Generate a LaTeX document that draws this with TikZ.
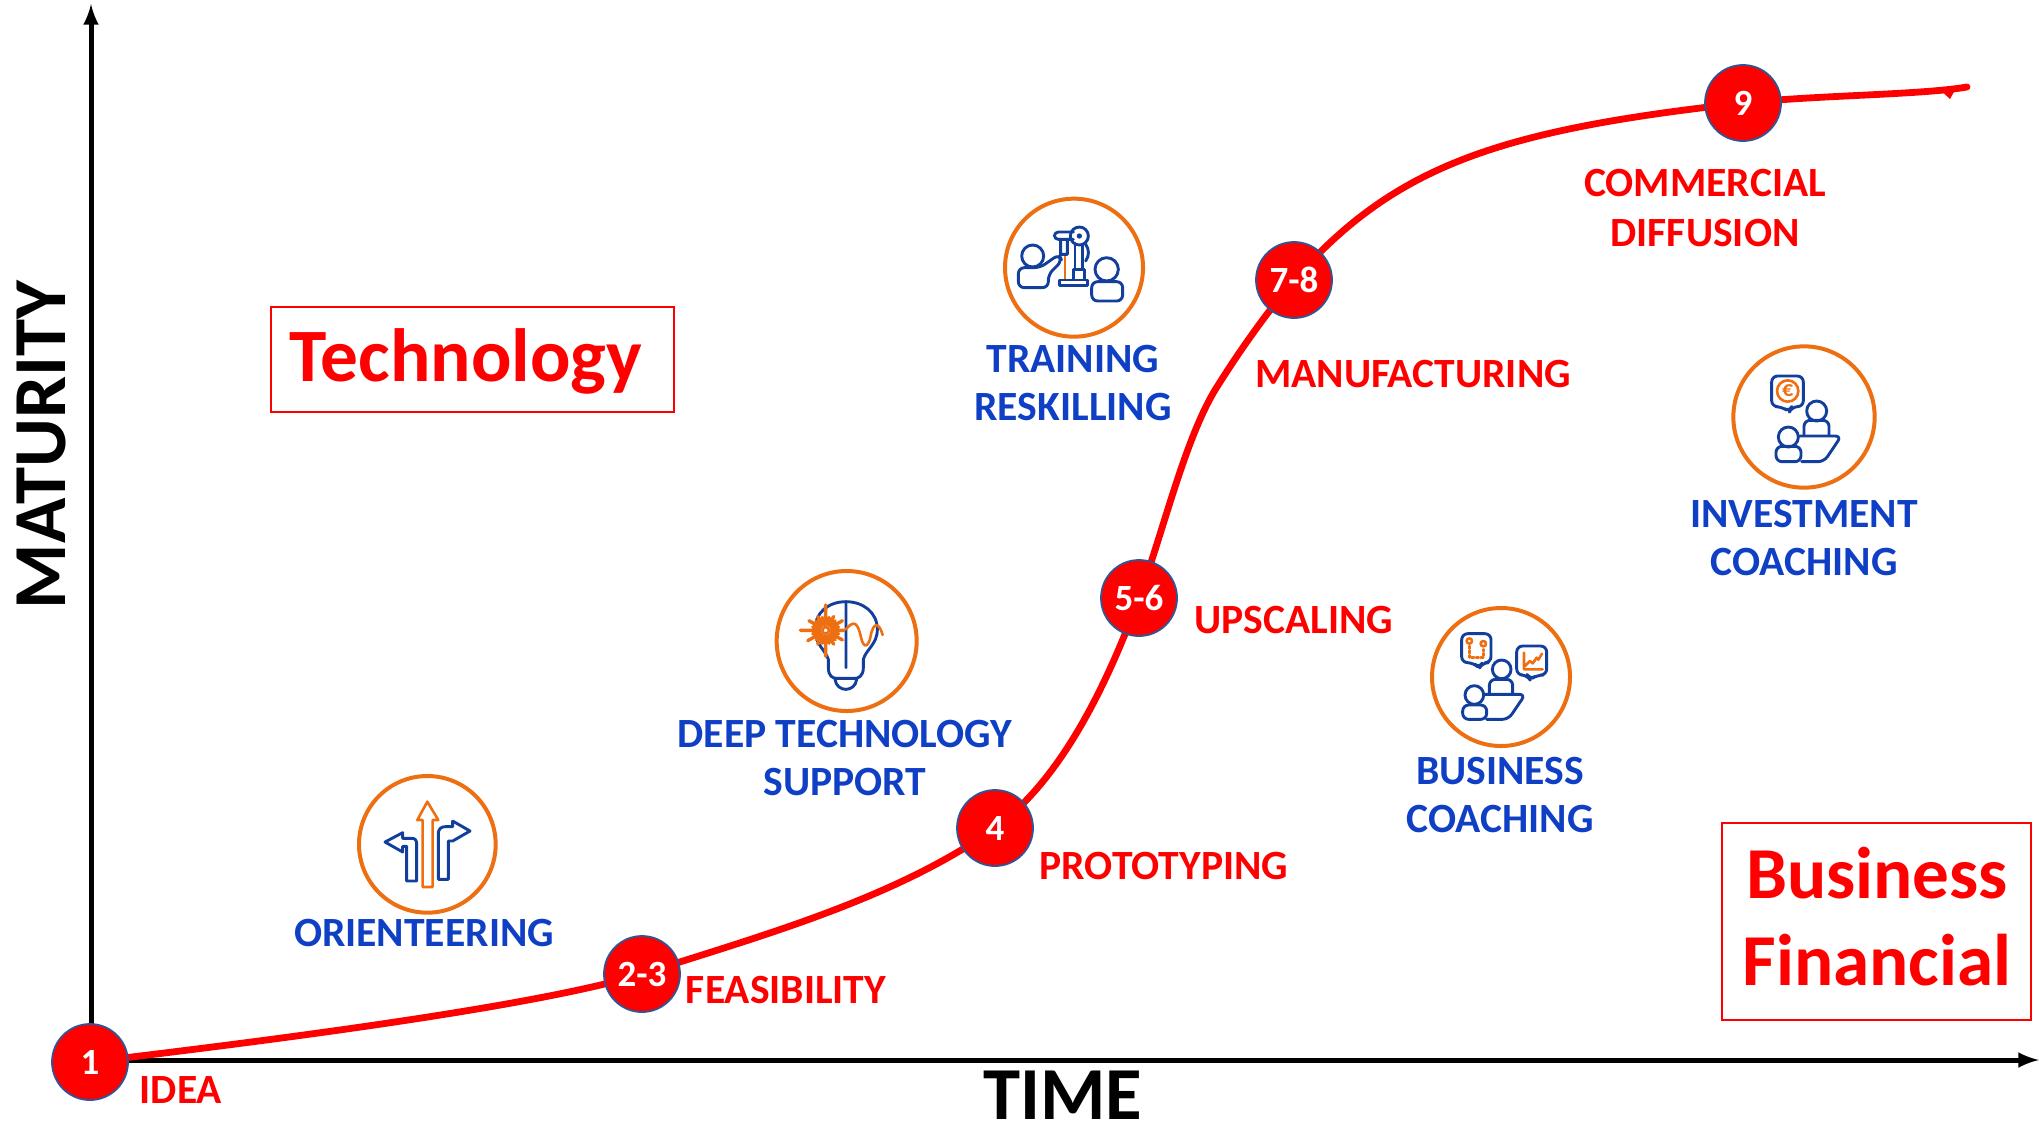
\documentclass[tikz,border=0pt]{standalone}
\usepackage{fontspec}
\setmainfont{Carlito}
\definecolor{myred}{rgb}{1,0,0}
\definecolor{myblue}{HTML}{0F3FC4}
\definecolor{iconblue}{HTML}{123F9C}
\definecolor{iconorange}{HTML}{EE6E12}
\definecolor{badgeline}{HTML}{2F5597}
\tikzset{
	badge/.style={circle,draw=badgeline,line width=0.9pt,fill=myred,text=white,minimum size=38pt,inner sep=0pt,font=\bfseries\fontsize{18.5}{18.5}\selectfont},
	redlabel/.style={text=myred,align=center,inner sep=0pt,font=\bfseries\fontsize{20.8}{25.4}\selectfont},
	bluelabel/.style={text=myblue,align=center,inner sep=0pt,font=\bfseries\fontsize{20.8}{24.2}\selectfont},
	bigbox/.style={draw=myred,line width=0.6pt,inner sep=0pt},
	axislabel/.style={text=black,inner sep=0pt,font=\bfseries\fontsize{37.4}{37.4}\selectfont},
	iconunit/.style={x=0.16667pt,y=-0.16667pt},
	ring/.style={draw=iconorange,line width=2pt},
	blueline/.style={draw=iconblue,line width=1.45pt,line join=round,line cap=round},
	orangeline/.style={draw=iconorange,line width=1.3pt,line join=round,line cap=round}
}
\begin{document}
\begin{tikzpicture}[>=latex, x=0.5pt, y=-0.5pt]
	\useasboundingbox (0,0) rectangle (2039,1121);

	% Axes
	\coordinate (origin) at (91,1060);
	\coordinate (xend) at (2039,1060);
	\coordinate (yend) at (91,4);
	\draw[->, line width=2.5pt] (origin) -- (xend);
	\draw[->, line width=2.5pt] (origin) -- (yend);
	\node[axislabel, rotate=90] (maturity) at (42,445) {MATURITY};
	\node[axislabel] (time) at (1063,1095.5) {TIME};

	% Maturity curve, it runs under the badges
	\coordinate (c1) at (90,1062);
	\coordinate (c23) at (642,974);
	\coordinate (c4) at (995,828);
	\coordinate (c56) at (1139,598);
	\coordinate (bend) at (1215,390);
	\coordinate (c78) at (1294,280);
	\coordinate (c9) at (1743,103);
	\coordinate (cend) at (1967,87);
	\draw[myred, line width=3.4pt, line cap=round] (c1) .. controls (300,1037) and (540,1005) .. (c23) .. controls (760,936) and (895,899) .. (c4) .. controls (1060,780) and (1105,690) .. (c56) .. controls (1165,525) and (1185,440) .. (bend) .. controls (1240,350) and (1265,315) .. (c78) .. controls (1395,165) and (1500,130) .. (c9) .. controls (1820,95) and (1920,95) .. (cend);
	\fill[myred] (1938,88) -- (1950,99) -- (1955,90) -- cycle;

	% Badges on the curve
	\node[badge] (b1) at (c1) {1};
	\node[badge] (b23) at (c23) {2-3};
	\node[badge] (b4) at (c4) {4};
	\node[badge] (b56) at (c56) {5-6};
	\node[badge] (b78) at (c78) {7-8};
	\node[badge] (b9) at (c9) {9};

	% Labels of the stages
	\node[redlabel] (idea) at (181,1090) {IDEA};
	\node[redlabel] (feasibility) at (786,990) {FEASIBILITY};
	\node[redlabel] (prototyping) at (1164,866) {PROTOTYPING};
	\node[redlabel] (upscaling) at (1294,620) {UPSCALING};
	\node[redlabel] (manufacturing) at (1413,374) {MANUFACTURING};
	\node[redlabel] (commercial) at (1705,208) {COMMERCIAL\\DIFFUSION};

	% Labels of the services
	\node[bluelabel] (orienteering) at (424,933) {ORIENTEERING};
	\node[bluelabel] (deeptech) at (845,758) {DEEP TECHNOLOGY\\SUPPORT};
	\node[bluelabel] (training) at (1073,383) {TRAINING\\RESKILLING};
	\node[bluelabel] (business) at (1500,795) {BUSINESS\\COACHING};
	\node[bluelabel] (investment) at (1804,538) {INVESTMENT\\COACHING};

	% The two boxes
	\draw[bigbox] (271,307) rectangle (674,412);
	\node[text=myred, inner sep=0pt, font=\bfseries\fontsize{37.7}{37.7}\selectfont] (technology) at (466,361) {Technology};
	\draw[bigbox] (1722,823) rectangle (2031,1020);
	\node[text=myred, align=center, inner sep=0pt, font=\bfseries\fontsize{36.6}{43.5}\selectfont] (financial) at (1877,917) {Business\\Financial};

	% Icon: orienteering
	\begin{scope}[shift={(340,761)}, iconunit]
		\draw[ring] (262,250) circle (205);
		\draw[orangeline] (248,378) -- (278,378) -- (278,177) -- (295,177) -- (262,122) -- (232,177) -- (248,177) -- cycle;
		\draw[blueline] (200,360) -- (230,360) -- (230,250) .. controls (230,238) and (226,232) .. (216,232) -- (188,232) -- (188,215) -- (135,243) -- (188,273) -- (188,256) -- (200,256) -- cycle;
		\draw[blueline] (295,355) -- (325,355) -- (325,240) -- (338,240) -- (390,210) -- (338,180) -- (338,197) -- (315,197) .. controls (303,197) and (295,205) .. (295,217) -- cycle;
	\end{scope}

	% Icon: lamp with a laser
	\begin{scope}[shift={(760,561)}, iconunit]
		\draw[ring] (260,240) circle (210);
		\draw[blueline] (205,320) -- (205,295) .. controls (195,265) and (165,250) .. (165,205) .. controls (165,155) and (205,122) .. (258,122) .. controls (310,122) and (352,155) .. (352,205) .. controls (352,250) and (318,265) .. (310,295) -- (310,320) .. controls (310,345) and (295,352) .. (285,352) -- (230,352) .. controls (218,352) and (205,345) .. (205,320) -- cycle;
		\draw[blueline] (258,122) -- (258,320) (225,355) .. controls (230,395) and (285,395) .. (290,355);
		\fill[white] (197,208) circle (14);
		\draw[orangeline, line width=1.7pt] (197,208) +(0:18) -- +(0:55) +(30:18) -- +(30:58) +(60:18) -- +(60:48) +(90:18) -- +(90:78) +(120:18) -- +(120:48) +(150:18) -- +(150:62) +(180:18) -- +(180:76) +(210:18) -- +(210:58) +(240:18) -- +(240:48) +(270:18) -- +(270:76) +(300:18) -- +(300:48) +(330:18) -- +(330:58) (197,208) +(15:18) -- +(15:40) +(45:18) -- +(45:40) +(75:18) -- +(75:40) +(105:18) -- +(105:40) +(135:18) -- +(135:40) +(165:18) -- +(165:40) +(195:18) -- +(195:40) +(225:18) -- +(225:40) +(255:18) -- +(255:40) +(285:18) -- +(285:40) +(315:18) -- +(315:40) +(345:18) -- +(345:40);
		\draw[orangeline] (197,208) circle (10);
		\draw[orangeline] (258,205) .. controls (285,170) and (295,195) .. (302,225) .. controls (310,265) and (325,260) .. (332,225) .. controls (340,180) and (358,185) .. (368,222);
	\end{scope}

	% Icon: training at a machine
	\begin{scope}[shift={(990,186)}, iconunit]
		\draw[ring] (252,245) circle (207);
		\draw[orangeline] (225,212) -- (225,282);
		\draw[blueline] (128,210) circle (33) (350,250) circle (35);
		\draw[blueline, rounded corners=3pt] (85,305) -- (85,245) -- (150,245) -- (207,205) -- (216,225) -- (175,265) -- (175,305) -- cycle;
		\draw[blueline, rounded corners=3pt] (305,345) -- (305,287) -- (398,287) -- (398,345) -- cycle;
		\draw[blueline] (208,282) rectangle (293,298) (250,250) rectangle (283,282) (255,175) -- (255,250) (278,178) -- (278,250);
		\draw[blueline, rounded corners=2pt] (250,138) -- (193,138) -- (193,160) -- (250,160);
		\draw[blueline] (268,150) circle (27) (212,160) -- (212,205) -- (232,205) -- (232,160) (287,175) .. controls (298,190) and (298,210) .. (287,225);
		\fill[iconblue] (268,150) circle (8);
	\end{scope}

	% Icon: business coaching
	\begin{scope}[shift={(1420,601)}, iconunit]
		\draw[ring] (243,228) circle (207);
		\draw[blueline] (245,205) circle (28) (163,282) circle (28);
		\draw[blueline, rounded corners=3pt] (208,278) -- (208,235) -- (278,235) -- (278,278);
		\draw[blueline, rounded corners=3pt] (190,280) -- (316,280) -- (265,355) -- (200,355);
		\draw[blueline, rounded corners=3pt] (128,355) -- (128,312) -- (200,312) -- (200,355) -- cycle;
		\draw[blueline, rounded corners=3pt] (160,185) -- (125,185) -- (125,98) -- (213,98) -- (213,185) -- (187,185) -- (178,202) -- cycle;
		\draw[blueline, rounded corners=3pt] (322,222) -- (290,222) -- (290,135) -- (380,135) -- (380,222) -- (352,222) -- (330,236) -- cycle;
		\draw[orangeline] (148,120) circle (8) (190,128) circle (8);
		\draw[orangeline, densely dotted] (148,135) -- (148,170) -- (190,170) -- (190,145);
		\draw[orangeline] (312,155) -- (312,205) -- (368,205) (315,195) -- (330,180) -- (338,187) -- (350,170) -- (355,176) -- (366,158);
	\end{scope}

	% Icon: investment coaching
	\begin{scope}[shift={(1720,341)}, iconunit]
		\draw[ring] (252,228) circle (212);
		\draw[blueline] (290,210) circle (30) (205,288) circle (30);
		\draw[blueline, rounded corners=3pt] (252,282) -- (252,238) -- (327,238) -- (327,282);
		\draw[blueline, rounded corners=3pt] (240,285) -- (364,285) -- (312,362) -- (245,362);
		\draw[blueline, rounded corners=3pt] (168,362) -- (168,316) -- (243,316) -- (243,362) -- cycle;
		\draw[blueline, rounded corners=3pt] (185,197) -- (155,197) -- (155,105) -- (250,105) -- (250,197) -- (215,197) -- (208,213) -- cycle;
		\draw[orangeline] (203,150) circle (32);
		\node[text=iconorange, inner sep=0pt, font=\bfseries\fontsize{11}{11}\selectfont] (euro) at (203,150) {€};
	\end{scope}
\end{tikzpicture}
\end{document}
